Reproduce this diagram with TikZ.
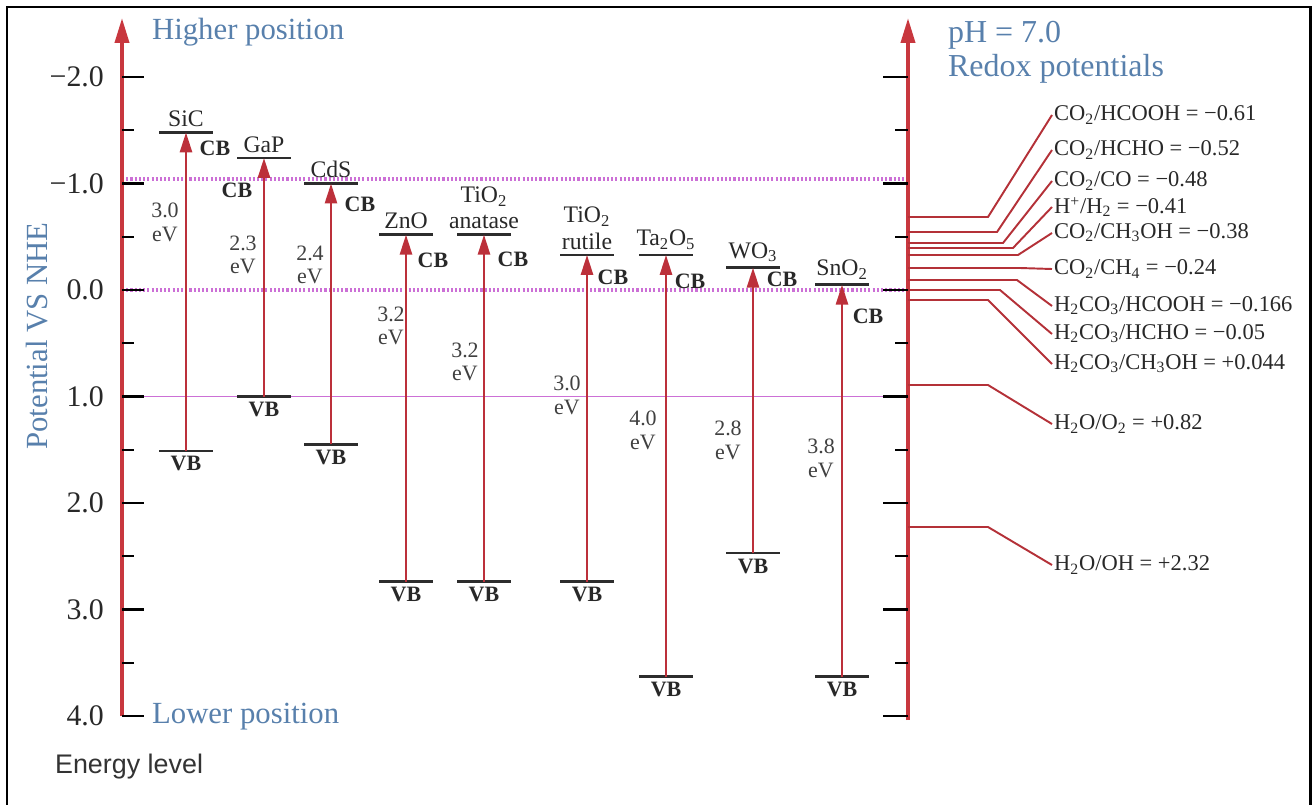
\documentclass[tikz,border=0pt]{standalone}
\usepackage{fontspec}
\setmainfont{Liberation Serif}
\setsansfont{Liberation Sans}
\usetikzlibrary{positioning,arrows.meta}

\definecolor{axisred}{RGB}{200,55,62}
\definecolor{bandred}{RGB}{188,48,58}
\definecolor{lblue}{RGB}{88,128,172}
\definecolor{refviolet}{RGB}{204,112,214}
\definecolor{levelgray}{RGB}{45,45,45}
\definecolor{txtgray}{RGB}{40,40,40}

\begin{document}
\begin{tikzpicture}[x=0.02cm, y=-0.02cm,
    declare function={py(\e)=290+106.5*\e;},
    every node/.style={inner sep=1pt, text=txtgray},
    axisarr/.style={axisred, line width=2.2pt, -{Triangle[length=0.5cm,width=0.28cm]}},
    gaparr/.style={bandred, line width=1.5pt, -{Triangle[length=0.4cm,width=0.24cm]}},
    level/.style={levelgray, line width=1.5pt},
    majtick/.style={black, line width=1.6pt},
    mintick/.style={black, line width=1.2pt},
    refdot/.style={refviolet, line width=1.8pt, dash pattern=on 1.2pt off 1.2pt},
    refsolid/.style={refviolet, line width=0.9pt},
    redoxline/.style={axisred!90!black, line width=1.1pt},
    ticklbl/.style={font=\fontsize{17}{19}\selectfont, anchor=east},
    bluelbl/.style={font=\fontsize{17.5}{19}\selectfont, text=lblue},
    semi/.style={font=\fontsize{13.5}{15}\selectfont, align=center},
    band/.style={font=\fontsize{12.5}{14}\selectfont\bfseries},
    gaplbl/.style={font=\fontsize{12.5}{13.5}\selectfont, align=center, text=black!75},
    redox/.style={font=\fontsize{12.8}{14}\selectfont, anchor=west}
]
\useasboundingbox (0,0) rectangle (1313,805);
\draw[black, line width=1.7pt] (7,805) -- (7,7) -- (1310,7) -- (1310,805);

% reference levels
\draw[refdot] (122,179) -- (908,179);
\draw[refdot] (122,{py(0)}) -- (908,{py(0)});
\draw[refsolid] (122,{py(1)}) -- (908,{py(1)});

% axes
\coordinate (lbot) at (122,{py(4)});
\coordinate (ltop) at (122,18);
\coordinate (rbot) at (908,720);
\coordinate (rtop) at (908,18);
\draw[axisarr] (lbot) -- (ltop);
\draw[axisarr] (rbot) -- (rtop);

\foreach \e/\t in {-2/−2.0,-1/−1.0,0/0.0,1/1.0,2/2.0,3/3.0,4/4.0} {
  \draw[majtick] (122,{py(\e)}) -- (144,{py(\e)});
  \draw[majtick] (883,{py(\e)}) -- (908,{py(\e)});
  \node[ticklbl] (t\e) at (106,{py(\e)}) {\t};
}
\foreach \e in {-1.5,-0.5,0.5,1.5,2.5,3.5} {
  \draw[mintick] (122,{py(\e)}) -- (134,{py(\e)});
  \draw[mintick] (895,{py(\e)}) -- (908,{py(\e)});
}

\node[bluelbl, anchor=west] (hi) at (150,32) {Higher position};
\node[bluelbl, anchor=west] (lo) at (150,717) {Lower position};
\node[bluelbl, rotate=90] (pot) at (37,336) {Potential VS NHE};
\node[anchor=west, font=\sffamily\fontsize{15.3}{17}\selectfont, text=black!80] (elev) at (53,767) {Energy level};
\node[anchor=west, align=left, text=lblue, font=\fontsize{18.2}{19.4}\selectfont] (ph) at (946,52) {pH = 7.0\\Redox potentials};

% semiconductors: id/label/x/CB/VB/gap/gap label x/y/CB label shift
\foreach \id/\lab/\x/\cb/\vb/\gap/\gx/\gy/\cx/\cy in {
  sic/SiC/186/-1.48/1.51/3.0/165/222/29/16,
  gap/GaP/264/-1.24/1.0/2.3/243/255/-27/32,
  cds/CdS/331/-1.0/1.45/2.4/310/265/29/21,
  zno/ZnO/406/-0.52/2.74/3.2/391/326/27/26,
  ana/{TiO\textsubscript{2}\\anatase}/484/-0.52/2.74/3.2/465/362/29/25,
  rut/{TiO\textsubscript{2}\\rutile}/587/-0.33/2.74/3.0/567/395/26/22,
  tao/{Ta\textsubscript{2}O\textsubscript{5}}/666/-0.33/3.63/4.0/643/430/24/26,
  wo/{WO\textsubscript{3}}/753/-0.21/2.47/2.8/728/440/29/12,
  sno/{SnO\textsubscript{2}}/842/-0.05/3.63/3.8/821/458/26/32} {
  \coordinate (cb-\id) at (\x,{py(\cb)});
  \coordinate (vb-\id) at (\x,{py(\vb)});
  \draw[level] ([xshift=-0.54cm]cb-\id) -- ([xshift=0.54cm]cb-\id);
  \draw[level] ([xshift=-0.54cm]vb-\id) -- ([xshift=0.54cm]vb-\id);
  \draw[gaparr] (vb-\id) -- (cb-\id);
  \node[semi, above=2pt of cb-\id] (nm-\id) {\lab};
  \node[band] (cbl-\id) at ([shift={(\cx,\cy)}]cb-\id) {CB};
  \node[band, below=2pt of vb-\id] (vbl-\id) {VB};
  \node[gaplbl] (g-\id) at (\gx,\gy) {\gap\\eV};
}

% redox couples
\foreach \i/\ly/\kx/\ty/\txt in {
  1/217/988/115/{CO\textsubscript{2}/HCOOH = −0.61},
  2/232/997/150/{CO\textsubscript{2}/HCHO = −0.52},
  3/243/1003/181/{CO\textsubscript{2}/CO = −0.48},
  4/248/1013/207/{H\textsuperscript{+}/H\textsubscript{2} = −0.41},
  5/255/1018/233/{CO\textsubscript{2}/CH\textsubscript{3}OH = −0.38},
  6/268/1020/269/{CO\textsubscript{2}/CH\textsubscript{4} = −0.24},
  7/280/1017/306/{H\textsubscript{2}CO\textsubscript{3}/HCOOH = −0.166},
  8/290/1000/334/{H\textsubscript{2}CO\textsubscript{3}/HCHO = −0.05},
  9/300/988/364/{H\textsubscript{2}CO\textsubscript{3}/CH\textsubscript{3}OH = +0.044},
  10/385/988/424/{H\textsubscript{2}O/O\textsubscript{2} = +0.82},
  11/527/988/565/{H\textsubscript{2}O/OH = +2.32}} {
  \coordinate (ra-\i) at (908,\ly);
  \node[redox] (rx-\i) at (1052,\ty) {\txt};
  \draw[redoxline] (ra-\i) -- (\kx,\ly) -- (rx-\i.west);
}
\end{tikzpicture}
\end{document}
